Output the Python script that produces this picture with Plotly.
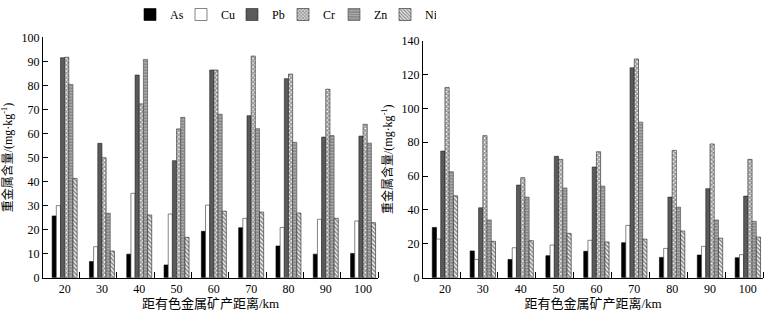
import plotly.graph_objects as go

distances = [20, 30, 40, 50, 60, 70, 80, 90, 100]
tick_labels = ["20", "30", "40", "50", "60", "70", "80", "90", "100"]
boundaries = [24, 34, 44, 54, 64, 74, 84, 94, 104]
metals = ["As", "Cu", "Pb", "Cr", "Zn", "Ni"]

# Left panel values (mg/kg)
left_As = [25.7, 6.7, 9.8, 5.3, 19.3, 20.8, 13.2, 9.8, 10.1]
left_Cu = [30.0, 12.9, 35.1, 26.5, 30.2, 24.7, 20.9, 24.3, 23.6]
left_Pb = [91.5, 55.9, 84.3, 48.7, 86.4, 67.4, 82.8, 58.5, 58.9]
left_Cr = [91.7, 49.9, 72.3, 61.9, 86.4, 92.2, 84.7, 78.4, 63.8]
left_Zn = [80.4, 26.8, 90.8, 66.7, 68.0, 62.0, 56.3, 59.1, 56.0]
left_Ni = [41.3, 11.1, 26.1, 16.8, 27.7, 27.3, 26.9, 24.7, 22.9]

# Right panel values (mg/kg)
right_As = [29.7, 15.8, 10.8, 13.0, 15.6, 20.7, 12.0, 13.4, 11.8]
right_Cu = [22.8, 10.8, 17.7, 19.3, 22.1, 30.9, 17.3, 18.5, 13.6]
right_Pb = [74.8, 41.3, 54.7, 71.7, 65.4, 124.0, 47.6, 52.6, 48.2]
right_Cr = [112.4, 83.9, 59.1, 69.9, 74.4, 129.2, 75.2, 79.0, 69.9]
right_Zn = [62.6, 34.1, 47.6, 53.0, 54.1, 91.9, 41.7, 34.1, 33.3]
right_Ni = [48.4, 21.5, 21.9, 26.2, 21.1, 22.8, 27.6, 23.4, 24.0]

left = [left_As, left_Cu, left_Pb, left_Cr, left_Zn, left_Ni]
right = [right_As, right_Cu, right_Pb, right_Cr, right_Zn, right_Ni]

styles = {
    "As": dict(color="black", line=dict(color="black", width=0.6)),
    "Cu": dict(color="white", line=dict(color="#333", width=0.6)),
    "Pb": dict(color="#5a5a5a", line=dict(color="#222", width=0.6)),
    "Cr": dict(color="white", line=dict(color="#222", width=0.6),
               pattern=dict(shape="x", size=3, solidity=0.7, fgcolor="#333",
                            bgcolor="white", fillmode="overlay")),
    "Zn": dict(color="#9a9a9a", line=dict(color="#444", width=0.6),
               pattern=dict(shape="-", size=3, solidity=0.35, fgcolor="#e0e0e0",
                            bgcolor="#8a8a8a", fillmode="overlay")),
    "Ni": dict(color="white", line=dict(color="#222", width=0.6),
               pattern=dict(shape="\\", size=3, solidity=0.6, fgcolor="#222",
                            bgcolor="white", fillmode="overlay")),
}

fig = go.Figure()
for i, m in enumerate(metals):
    fig.add_trace(go.Bar(x=distances, y=left[i], name=m, marker=styles[m],
                         xaxis="x", yaxis="y", legendgroup=m, showlegend=True,
                         offsetgroup=m))
for i, m in enumerate(metals):
    fig.add_trace(go.Bar(x=distances, y=right[i], name=m, marker=styles[m],
                         xaxis="x2", yaxis="y2", legendgroup=m, showlegend=False,
                         offsetgroup=m))

font_family = "Liberation Serif, Noto Sans CJK SC"
W, H = 773, 313

xcommon = dict(
    range=[14.2, 104], tickmode="array", tickvals=distances, ticktext=tick_labels,
    ticks="", showline=True, linecolor="black", linewidth=1, showgrid=False,
    zeroline=False, automargin=False,
    tickfont=dict(size=12, color="black", family=font_family),
    minor=dict(tickmode="array", tickvals=boundaries, ticks="inside", ticklen=6,
               tickcolor="black", tickwidth=1, showgrid=False),
    title=dict(text="距有色金属矿产距离/km", font=dict(size=13, color="black", family=font_family),
               standoff=2),
)
ycommon = dict(
    ticks="inside", ticklen=5, tickcolor="black", showline=True, linecolor="black",
    linewidth=1, showgrid=False, zeroline=False, automargin=False,
    tickfont=dict(size=12, color="black", family=font_family),
    title=dict(text="重金属含量/(mg·kg<sup>-1</sup>)", font=dict(size=12, color="black", family=font_family),
               standoff=6),
)

fig.update_layout(
    width=W, height=H, margin=dict(l=0, r=0, t=0, b=0, autoexpand=False),
    paper_bgcolor="white", plot_bgcolor="white",
    barmode="group", bargap=0.33, bargroupgap=0,
    font=dict(family=font_family, color="black"),
    xaxis=dict(domain=[43 / W, 378 / W], anchor="y", **xcommon),
    yaxis=dict(domain=[35.3 / H, 275.7 / H], anchor="x", range=[0, 100], dtick=10, **ycommon),
    xaxis2=dict(domain=[423 / W, 763 / W], anchor="y2", **xcommon),
    yaxis2=dict(domain=[35.3 / H, 272.3 / H], anchor="x2", range=[0, 140], dtick=20, **ycommon),
    legend=dict(orientation="h", x=130 / W, y=1.0, xanchor="left", yanchor="top",
                font=dict(size=12, color="black", family=font_family),
                itemwidth=30, entrywidth=6, entrywidthmode="pixels",
                tracegroupgap=0, bgcolor="rgba(0,0,0,0)"),
)

fig.write_html("out.html", config={"displayModeBar": False},
               post_script="document.body.style.margin='0';")
